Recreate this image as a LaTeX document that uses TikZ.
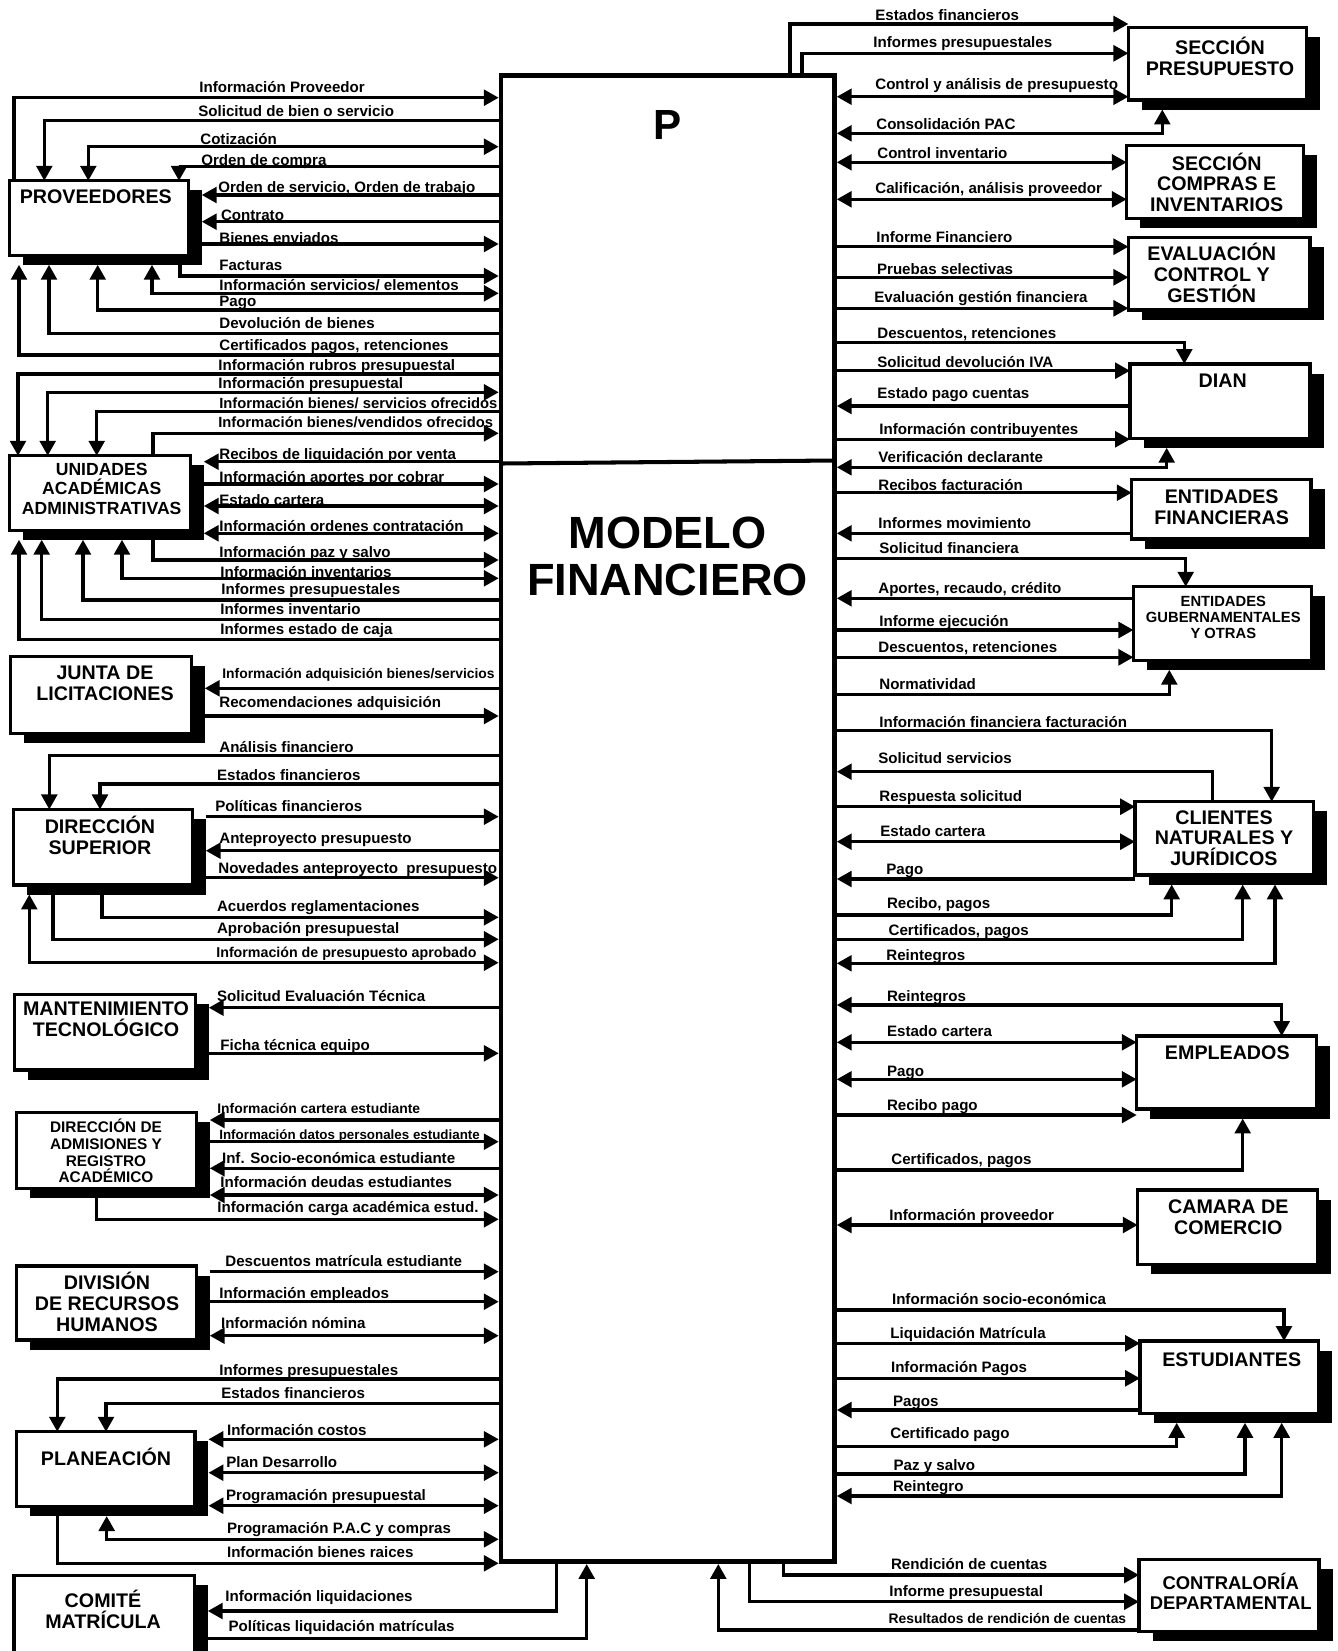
\documentclass[tikz,border=0pt]{standalone}
\usepackage{fontspec}
\setmainfont{Liberation Sans}
\usetikzlibrary{arrows.meta,fit,shadows}

% bold text at a given size and line spacing
\newcommand\tfont[2]{\fontsize{#1pt}{#2pt}\selectfont\bfseries}
% entity box given by its outer corners; adds coordinates for the shadow edges
\newcommand\entbox[5]{%
  \node[ent, fit={(#2+1.7,#3+1.7) (#4-1.7,#5-1.7)}] (#1) {};
  \coordinate (#1S) at ([yshift=-0.19cm]#1.south);
  \coordinate (#1E) at ([xshift=0.27cm]#1.east);
}
% flow label, anchored at its baseline start
\newcommand\flab[4][8.6]{\node[lab, font=\tfont{#1}{#1}] (#2) at (#3) {#4};}

\begin{document}
\begin{tikzpicture}[x=0.02cm, y=-0.02cm,
  ent/.style={draw, line width=1.9pt, fill=white, inner sep=0pt, outer sep=0pt,
    drop shadow={shadow xshift=0.27cm, shadow yshift=-0.19cm, opacity=1, fill=black}},
  ttl/.style={align=center, inner sep=0pt, font=\tfont{11.2}{11.8}},
  lab/.style={anchor=base west, inner sep=0pt},
  flow/.style={line width=1.8pt, >={Triangle[length=8.5pt,width=9pt]}}]

\fill[white] (0,0) rectangle (1338,1651);
\path[use as bounding box] (0,0) rectangle (1338,1651);

% ---------- central process ----------
\node[draw, line width=2.6pt, inner sep=0pt, outer sep=0pt, fill=white,
      fit={(501,75.5) (834.5,1561.7)}] (mf) {};
\coordinate (mfL) at ([xshift=-0.046cm]mf.west);
\coordinate (mfR) at ([xshift=0.046cm]mf.east);
\coordinate (mfB) at ([yshift=-0.046cm]mf.south);
\draw[line width=2.3pt] (mf.west |- 0,463.5) -- (mf.east |- 0,460.5);
\node[font=\tfont{24}{24}] (pmark) at (667.5,124.8) {P};
\node[align=center, font=\tfont{25.7}{26.8}] (mname) at (667.5,556.3) {MODELO\\FINANCIERO};

% ---------- external entities, left ----------
\entbox{prov}{8}{179}{190}{257}
\entbox{uaa}{8}{454}{192}{532}
\entbox{jl}{9}{655}{193}{735}
\entbox{ds}{11.7}{807.7}{194}{886.7}
\entbox{mt}{13}{992.7}{197}{1071.7}
\entbox{da}{15}{1110.7}{198}{1190}
\entbox{drh}{15}{1264.3}{198}{1341.7}
\entbox{pl}{15}{1430}{196.7}{1508.3}
\entbox{cm}{12.3}{1574}{196}{1670}
% ---------- external entities, right ----------
\entbox{sp}{1126.7}{26}{1308.3}{101.7}
\entbox{sc}{1125}{144}{1305}{220}
\entbox{ec}{1126.7}{235.7}{1311.7}{311.7}
\entbox{dian}{1128.3}{362.3}{1311.7}{440}
\entbox{ef}{1130}{477.7}{1312.7}{540.7}
\entbox{eg}{1131.7}{585}{1313.3}{662}
\entbox{cl}{1133.3}{800}{1315}{876.7}
\entbox{em}{1135}{1034.3}{1318.3}{1110.7}
\entbox{cc}{1136}{1188.3}{1319}{1266}
\entbox{es}{1138.3}{1339.3}{1320}{1415}
\entbox{cd}{1137.3}{1557.7}{1320.7}{1633.3}

% ---------- entity titles ----------
\node[ttl] (provT) at (95.8,196.7) {PROVEEDORES};
\node[ttl, font=\tfont{10}{11.05}] (uaaT) at (101.7,488.8) {UNIDADES\\ACADÉMICAS\\ADMINISTRATIVAS};
\node[ttl] (jlT) at (105,683.5) {JUNTA DE\\LICITACIONES};
\node[ttl] (dsT) at (100,835) {DIRECCIÓN\\SUPERIOR};
\node[ttl] (mtT) at (106,1019) {MANTENIMIENTO\\TECNOLÓGICO};
\node[ttl, font=\tfont{8.75}{9.5}] (daT) at (106,1151) {DIRECCIÓN DE\\ADMISIONES Y\\REGISTRO\\ACADÉMICO};
\node[ttl] (drhT) at (107,1301.7) {DIVISIÓN\\DE RECURSOS\\HUMANOS};
\node[ttl] (plT) at (106,1456.7) {PLANEACIÓN};
\node[ttl] (cmT) at (103,1609.7) {COMITÉ\\MATRÍCULA};
\node[ttl] (spT) at (1220,56.2) {SECCIÓN\\PRESUPUESTO};
\node[ttl] (scT) at (1216.7,182.2) {SECCIÓN\\COMPRAS E\\INVENTARIOS};
\node[ttl] (ecT) at (1211.7,272.8) {EVALUACIÓN\\CONTROL Y\\GESTIÓN};
\node[ttl] (dianT) at (1222.7,380.7) {DIAN};
\node[ttl] (efT) at (1221.7,507) {ENTIDADES\\FINANCIERAS};
\node[ttl, font=\tfont{8.4}{9}] (egT) at (1223.3,617.4) {ENTIDADES\\GUBERNAMENTALES\\Y OTRAS};
\node[ttl] (clT) at (1224,838.1) {CLIENTES\\NATURALES Y\\JURÍDICOS};
\node[ttl] (emT) at (1227.3,1052.7) {EMPLEADOS};
\node[ttl] (ccT) at (1228.3,1217) {CAMARA DE\\COMERCIO};
\node[ttl] (esT) at (1231.7,1360) {ESTUDIANTES};
\node[ttl, font=\tfont{10.5}{11.3}] (cdT) at (1230.7,1591.7) {CONTRALORÍA\\DEPARTAMENTAL};

% ---------- flows: proveedores ----------
\draw[flow,->] (prov.north -| 14,0) |- (mfL |- 0,97.7);
\draw[flow,<-] (prov.north -| 44.3,0) |- (mfL |- 0,120.3);
\draw[flow,<->] (prov.north -| 88.3,0) |- (mfL |- 0,146.7);
\draw[flow,<-] (prov.north -| 179,0) |- (mfL |- 0,166.7);
\draw[flow,<-] (provE |- 0,195) -- (mfL |- 0,195);
\draw[flow,<-] (provE |- 0,221.7) -- (mfL |- 0,221.7);
\draw[flow,->] (provE |- 0,244) -- (mfL |- 0,244);
\draw[flow,->] (prov.south -| 180,0) |- (mfL |- 0,276);
\draw[flow,<->] (provS -| 152,0) |- (mfL |- 0,293.3);
\draw[flow,<-] (provS -| 97.7,0) |- (mfL |- 0,310);
\draw[flow,<-] (provS -| 49,0) |- (mfL |- 0,333.3);
\draw[flow,<-] (provS -| 19,0) |- (mfL |- 0,355);
\flab{p1}{199,92}{Información Proveedor}
\flab{p2}{198,116}{Solicitud de bien o servicio}
\flab{p3}{200,144}{Cotización}
\flab{p4}{201,165}{Orden de compra}
\flab{p5}{218,192}{Orden de servicio, Orden de trabajo}
\flab{p6}{220.7,220}{Contrato}
\flab{p7}{219,243}{Bienes enviados}
\flab{p8}{219,270}{Facturas}
\flab{p9}{219,290}{Información servicios/ elementos}
\flab{p10}{219,306}{Pago}
\flab{p11}{219,328}{Devolución de bienes}
\flab{p12}{219,350}{Certificados pagos, retenciones}

% ---------- flows: unidades académicas ----------
\draw[flow,<-] (uaa.north -| 18,0) |- (mfL |- 0,374);
\draw[flow,<->] (uaa.north -| 47.7,0) |- (mfL |- 0,392.3);
\draw[flow,<-] (uaa.north -| 96.7,0) |- (mfL |- 0,411.7);
\draw[flow,->] (uaa.north -| 153,0) |- (mfL |- 0,433.3);
\draw[flow,<-] (uaaE |- 0,461.7) -- (mfL |- 0,461.7);
\draw[flow,->] (uaaE |- 0,484) -- (mfL |- 0,484);
\draw[flow,<->] (uaaE |- 0,506) -- (mfL |- 0,506);
\draw[flow,<->] (uaaE |- 0,533.3) -- (mfL |- 0,533.3);
\draw[flow,->] (uaa.south -| 153,0) |- (mfL |- 0,560);
\draw[flow,<->] (uaaS -| 122,0) |- (mfL |- 0,578.3);
\draw[flow,<-] (uaaS -| 83,0) |- (mfL |- 0,600);
\draw[flow,<-] (uaaS -| 41.7,0) |- (mfL |- 0,619.3);
\draw[flow,<-] (uaaS -| 19,0) |- (mfL |- 0,639.3);
\flab{u1}{218,370}{Información rubros presupuestal}
\flab{u2}{218,388}{Información presupuestal}
\flab[8.4]{u3}{219,408}{Información bienes/ servicios ofrecidos}
\flab[8.4]{u4}{218,427}{Información bienes/vendidos ofrecidos}
\flab{u5}{219,459}{Recibos de liquidación por venta}
\flab{u6}{219,482}{Información aportes por cobrar}
\flab{u7}{219,505}{Estado cartera}
\flab{u8}{219,531}{Información ordenes contratación}
\flab{u9}{219,557}{Información paz y salvo}
\flab{u10}{220,577}{Información inventarios}
\flab{u11}{221,594}{Informes presupuestales}
\flab{u12}{220,614}{Informes inventario}
\flab{u13}{220,634}{Informes estado de caja}

% ---------- flows: junta de licitaciones ----------
\draw[flow,<-] (jlE |- 0,688.3) -- (mfL |- 0,688.3);
\draw[flow,->] (jlE |- 0,716) -- (mfL |- 0,716);
\flab[7.9]{j1}{222,678}{Información adquisición bienes/servicios}
\flab{j2}{219,707}{Recomendaciones adquisición}

% ---------- flows: dirección superior ----------
\draw[flow,<-] (ds.north -| 49.3,0) |- (mfL |- 0,755.7);
\draw[flow,<-] (ds.north -| 100,0) |- (mfL |- 0,784);
\draw[flow,->] (dsE |- 0,816.7) -- (mfL |- 0,816.7);
\draw[flow,<-] (dsE |- 0,850.7) -- (mfL |- 0,850.7);
\draw[flow,->] (dsE |- 0,877.7) -- (mfL |- 0,877.7);
\draw[flow,->] (ds.south -| 102,0) |- (mfL |- 0,917.3);
\draw[flow,->] (ds.south -| 53,0) |- (mfL |- 0,939.3);
\draw[flow,<->] (dsS -| 29.3,0) |- (mfL |- 0,962.7);
\flab{d1}{219,752}{Análisis financiero}
\flab{d2}{216.7,780}{Estados financieros}
\flab{d3}{215,811.5}{Políticas financieros}
\flab{d4}{219,843}{Anteproyecto presupuesto}
\flab{d5}{218,873}{Novedades anteproyecto\ \ presupuesto}
\flab{d6}{216.7,911}{Acuerdos reglamentaciones}
\flab{d7}{216.7,933.5}{Aprobación presupuestal}
\flab[8.1]{d8}{216,957}{Información de presupuesto aprobado}

% ---------- flows: mantenimiento tecnológico ----------
\draw[flow,<-] (mtE |- 0,1007.7) -- (mfL |- 0,1007.7);
\draw[flow,->] (mtE |- 0,1053.3) -- (mfL |- 0,1053.3);
\flab{m1}{216.7,1001}{Solicitud Evaluación Técnica}
\flab{m2}{220,1050.5}{Ficha técnica equipo}

% ---------- flows: admisiones y registro ----------
\draw[flow,<-] (daE |- 0,1120) -- (mfL |- 0,1120);
\draw[flow,->] (daE |- 0,1141.7) -- (mfL |- 0,1141.7);
\draw[flow,<-] (daE |- 0,1168.3) -- (mfL |- 0,1168.3);
\draw[flow,<->] (daE |- 0,1195) -- (mfL |- 0,1195);
\draw[flow,->] (da.south -| 96.7,0) |- (mfL |- 0,1219.3);
\flab[7.9]{a1}{217,1113}{Información cartera estudiante}
\flab[7.6]{a2}{219,1139}{Información datos personales estudiante}
\flab{a3}{221.7,1163}{Inf. Socio-económica estudiante}
\flab{a4}{220,1187.5}{Información deudas estudiantes}
\flab{a5}{217,1212}{Información carga académica estud.}

% ---------- flows: recursos humanos ----------
\draw[flow,->] (drhE |- 0,1271.7) -- (mfL |- 0,1271.7);
\draw[flow,->] (drhE |- 0,1301.7) -- (mfL |- 0,1301.7);
\draw[flow,<->] (drhE |- 0,1335.7) -- (mfL |- 0,1335.7);
\flab{h1}{225,1266.5}{Descuentos matrícula estudiante}
\flab{h2}{219,1298}{Información empleados}
\flab{h3}{220.7,1328.5}{Información nómina}

% ---------- flows: planeación ----------
\draw[flow,<-] (pl.north -| 57.3,0) |- (mfL |- 0,1379);
\draw[flow,<-] (pl.north -| 106,0) |- (mfL |- 0,1403.3);
\draw[flow,<->] (plE |- 0,1439.3) -- (mfL |- 0,1439.3);
\draw[flow,<->] (plE |- 0,1472.7) -- (mfL |- 0,1472.7);
\draw[flow,<->] (plE |- 0,1505.7) -- (mfL |- 0,1505.7);
\draw[flow,<->] (plS -| 106.7,0) |- (mfL |- 0,1539.3);
\draw[flow,->] (pl.south -| 57.3,0) |- (mfL |- 0,1563.3);
\flab{n1}{219,1375.5}{Informes presupuestales}
\flab{n2}{221,1398}{Estados financieros}
\flab{n3}{226.7,1435}{Información costos}
\flab{n4}{226,1467}{Plan Desarrollo}
\flab{n5}{225.7,1500.5}{Programación presupuestal}
\flab{n6}{226.7,1533}{Programación P.A.C y compras}
\flab{n7}{226.7,1557.5}{Información bienes raices}

% ---------- flows: comité matrícula ----------
\draw[flow,<-] (cmE |- 0,1611) -| (mf.south -| 556.7,0);
\draw[flow,->] (cmE |- 0,1638.3) -| (mfB -| 586.7,0);
\flab{c1}{225,1601.5}{Información liquidaciones}
\flab{c2}{228.3,1631.5}{Políticas liquidación matrículas}

% ---------- flows: sección presupuesto ----------
\draw[flow,->] (mf.north -| 790,0) |- (sp.west |- 0,24);
\draw[flow,->] (mf.north -| 802,0) |- (sp.west |- 0,53.3);
\draw[flow,<->] (mfR |- 0,96.7) -- (sp.west |- 0,96.7);
\draw[flow,<->] (mfR |- 0,133.3) -| (spS -| 1162.3,0);
\flab{s1}{875,20}{Estados financieros}
\flab{s2}{873,47}{Informes presupuestales}
\flab{s3}{875,89}{Control y análisis de presupuesto}
\flab{s4}{876,129}{Consolidación PAC}

% ---------- flows: compras e inventarios ----------
\draw[flow,<->] (mfR |- 0,162.3) -- (sc.west |- 0,162.3);
\draw[flow,<->] (mfR |- 0,199.3) -- (sc.west |- 0,199.3);
\flab{r1}{877,158.5}{Control inventario}
\flab{r2}{875,193}{Calificación, análisis proveedor}

% ---------- flows: evaluación control y gestión ----------
\draw[flow,->] (mfR |- 0,246.7) -- (ec.west |- 0,246.7);
\draw[flow,->] (mfR |- 0,277.3) -- (ec.west |- 0,277.3);
\draw[flow,->] (mfR |- 0,308.3) -- (ec.west |- 0,308.3);
\flab{e1}{876,242}{Informe Financiero}
\flab{e2}{876.7,274}{Pruebas selectivas}
\flab{e3}{874,302.5}{Evaluación gestión financiera}

% ---------- flows: DIAN ----------
\draw[flow,->] (mfR |- 0,342.7) -| (dian.north -| 1184.3,0);
\draw[flow,->] (mfR |- 0,370.7) -- (dian.west |- 0,370.7);
\draw[flow,<-] (mfR |- 0,406) -- (dian.west |- 0,406);
\draw[flow,->] (mfR |- 0,439.3) -- (dian.west |- 0,439.3);
\draw[flow,<->] (mfR |- 0,467.3) -| (dianS -| 1166.7,0);
\flab{i1}{877,338.5}{Descuentos, retenciones}
\flab{i2}{877,367}{Solicitud devolución IVA}
\flab{i3}{877,398.5}{Estado pago cuentas}
\flab{i4}{879,434.5}{Información contribuyentes}
\flab{i5}{878,462}{Verificación declarante}

% ---------- flows: entidades financieras ----------
\draw[flow,->] (mfR |- 0,492.7) -- (ef.west |- 0,492.7);
\draw[flow,<-] (mfR |- 0,533.3) -- (ef.west |- 0,533.3);
\draw[flow,->] (mfR |- 0,558.3) -| (eg.north -| 1185.7,0);
\flab{f1}{878,490}{Recibos facturación}
\flab{f2}{878,528}{Informes movimiento}
\flab{f3}{879,553}{Solicitud financiera}

% ---------- flows: entidades gubernamentales ----------
\draw[flow,<-] (mfR |- 0,598.3) -- (eg.west |- 0,598.3);
\draw[flow,->] (mfR |- 0,630) -- (eg.west |- 0,630);
\draw[flow,->] (mfR |- 0,657.3) -- (eg.west |- 0,657.3);
\draw[flow,->] (mfR |- 0,694.3) -| (egS -| 1169.3,0);
\flab{g1}{878,593}{Aportes, recaudo, crédito}
\flab{g2}{879,626}{Informe ejecución}
\flab{g3}{878,652.5}{Descuentos, retenciones}
\flab{g4}{879,689}{Normatividad}

% ---------- flows: clientes ----------
\draw[flow,->] (mfR |- 0,730.7) -| (cl.north -| 1271.7,0);
\draw[flow,<-] (mfR |- 0,771.7) -| (cl.north -| 1212.7,0);
\draw[flow,->] (mfR |- 0,806.7) -- (cl.west |- 0,806.7);
\draw[flow,<->] (mfR |- 0,841.7) -- (cl.west |- 0,841.7);
\draw[flow,<-] (mfR |- 0,879) -- (cl.west |- 0,879);
\draw[flow,->] (mfR |- 0,915) -| (clS -| 1171.7,0);
\draw[flow,->] (mfR |- 0,939.3) -| (clS -| 1242.7,0);
\draw[flow,<->] (mfR |- 0,963.3) -| (clS -| 1275,0);
\flab{k1}{879,727.5}{Información financiera facturación}
\flab{k2}{878,763}{Solicitud servicios}
\flab{k3}{879,801}{Respuesta solicitud}
\flab{k4}{880,836.5}{Estado cartera}
\flab{k5}{886,874.5}{Pago}
\flab{k6}{886.7,908}{Recibo, pagos}
\flab{k7}{888.3,935}{Certificados, pagos}
\flab{k8}{886,960}{Reintegros}

% ---------- flows: empleados ----------
\draw[flow,<->] (mfR |- 0,1005) -| (em.north -| 1281.7,0);
\draw[flow,<->] (mfR |- 0,1042.3) -- (em.west |- 0,1042.3);
\draw[flow,<->] (mfR |- 0,1079.3) -- (em.west |- 0,1079.3);
\draw[flow,->] (mfR |- 0,1115) -- (em.west |- 0,1115);
\draw[flow,->] (mfR |- 0,1170) -| (emS -| 1242.7,0);
\flab{o1}{886.7,1001.5}{Reintegros}
\flab{o2}{886.7,1036}{Estado cartera}
\flab{o3}{886.7,1076}{Pago}
\flab{o4}{886.7,1110.5}{Recibo pago}
\flab{o5}{891,1164.5}{Certificados, pagos}

% ---------- flows: cámara de comercio ----------
\draw[flow,<->] (mfR |- 0,1225) -- (cc.west |- 0,1225);
\flab{q1}{889,1220}{Información proveedor}

% ---------- flows: estudiantes ----------
\draw[flow,->] (mfR |- 0,1310) -| (es.north -| 1284,0);
\draw[flow,->] (mfR |- 0,1343.3) -- (es.west |- 0,1343.3);
\draw[flow,->] (mfR |- 0,1378.3) -- (es.west |- 0,1378.3);
\draw[flow,<-] (mfR |- 0,1410) -- (es.west |- 0,1410);
\draw[flow,->] (mfR |- 0,1446.7) -| (esS -| 1176.7,0);
\draw[flow,->] (mfR |- 0,1474) -| (esS -| 1245,0);
\draw[flow,<->] (mfR |- 0,1496) -| (esS -| 1281.7,0);
\flab{t1}{891.7,1304.5}{Información socio-económica}
\flab{t2}{890,1338}{Liquidación Matrícula}
\flab{t3}{890.7,1372.5}{Información Pagos}
\flab{t4}{892.7,1406}{Pagos}
\flab{t5}{890,1438.5}{Certificado pago}
\flab{t6}{893.3,1470}{Paz y salvo}
\flab{t7}{892.7,1491.5}{Reintegro}

% ---------- flows: contraloría ----------
\draw[flow,->] (mf.south -| 783.3,0) |- (cd.west |- 0,1575);
\draw[flow,->] (mf.south -| 749.3,0) |- (cd.west |- 0,1601.7);
\draw[flow,<-] (mfB -| 718.3,0) |- (cd.west |- 0,1630);
\flab{w1}{890.7,1569}{Rendición de cuentas}
\flab{w2}{889,1596}{Informe presupuestal}
\flab[7.9]{w3}{888.3,1623.5}{Resultados de rendición de cuentas}

\end{tikzpicture}
\end{document}
